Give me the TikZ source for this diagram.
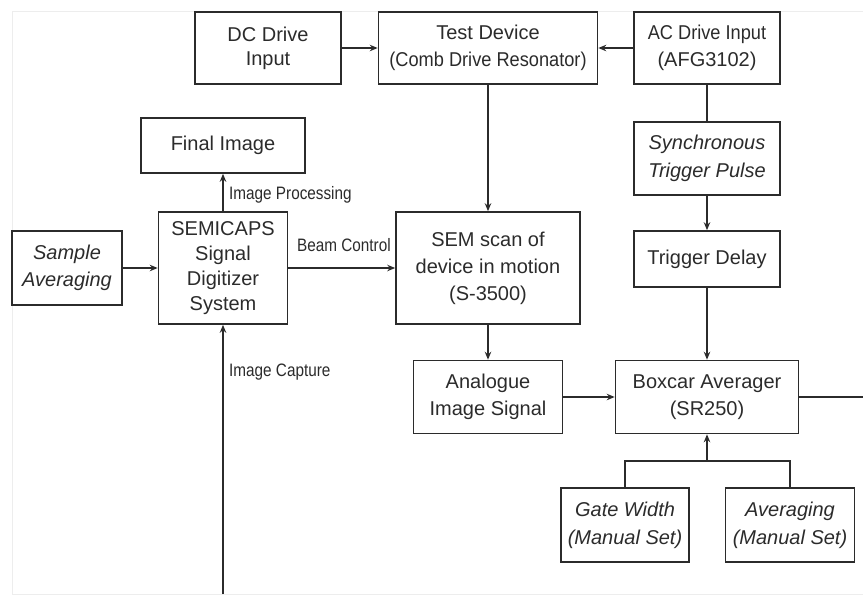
\documentclass[tikz,border=0pt]{standalone}
\usepackage{fontspec}
\setmainfont{Liberation Sans}
\newfontfamily\condfont[FakeStretch=0.85]{Liberation Sans}
\newfontfamily\narrowfont[FakeStretch=0.91]{Liberation Sans}
\usetikzlibrary{arrows.meta}
\definecolor{ink}{HTML}{2B2B2B}
\begin{document}
\begin{tikzpicture}[x=1pt,y=-1pt,
  box/.style={draw=ink, line width=1.6pt, text=ink, inner sep=0pt, align=center,
    font=\fontsize{20}{27}\selectfont},
  conn/.style={draw=ink, line width=1.6pt},
  arr/.style={conn, -{Stealth[length=8pt,width=6.5pt]}},
  lbl/.style={text=ink, font=\condfont\fontsize{18}{20}\selectfont, inner sep=0pt, anchor=west}]
\useasboundingbox (0,0) rectangle (863,595);
\draw[black!7, line width=0.8pt] (863,11) -- (12,11) -- (12,594) -- (863,594);

% nodes
\node[box, minimum width=146pt, minimum height=72pt] (dc) at (268,48) {DC Drive\\[-3pt]Input};
\node[box, minimum width=219pt, minimum height=72pt] (test) at (488,48) {Test Device\\{\narrowfont (Comb Drive Resonator)}};
\node[box, minimum width=146pt, minimum height=72pt] (ac) at (707,48) {{\narrowfont AC Drive Input}\\(AFG3102)};
\node[box, minimum width=164pt, minimum height=55pt] (final) at (223,145.5) {Final Image};
\node[box, minimum width=129pt, minimum height=112pt, font=\fontsize{20}{25}\selectfont] (semi) at (223,268) {SEMICAPS\\Signal\\Digitizer\\System};
\node[box, minimum width=110pt, minimum height=74pt, font=\itshape\fontsize{20}{27}\selectfont] (sample) at (67,268) {Sample\\Averaging};
\node[box, minimum width=184pt, minimum height=112pt] (sem) at (488,268) {SEM scan of\\device in motion\\(S-3500)};
\node[box, minimum width=146pt, minimum height=73pt, font=\itshape\fontsize{20}{28}\selectfont] (sync) at (707,158.5) {Synchronous\\Trigger Pulse};
\node[box, minimum width=146pt, minimum height=56pt] (delay) at (707,259) {Trigger Delay};
\node[box, minimum width=149pt, minimum height=73pt] (analog) at (488,397) {Analogue\\Image Signal};
\node[box, minimum width=183pt, minimum height=73pt] (boxcar) at (707,397) {Boxcar Averager\\(SR250)};
\node[box, minimum width=128pt, minimum height=74pt, font=\itshape\fontsize{20}{28}\selectfont] (gate) at (625,525) {Gate Width\\(Manual Set)};
\node[box, minimum width=129pt, minimum height=74pt, font=\itshape\fontsize{20}{28}\selectfont] (avg) at (790,525) {Averaging\\(Manual Set)};

\coordinate (capin) at (223,594);
\coordinate (out) at (863,397);
\coordinate (j) at (707,461);

% connectors
\draw[arr] (dc) -- (test);
\draw[arr] (ac) -- (test);
\draw[arr] (test) -- (sem);
\draw[conn] (ac) -- (sync);
\draw[arr] (sync) -- (delay);
\draw[arr] (delay) -- (boxcar);
\draw[arr] (sem) -- (analog);
\draw[arr] (analog) -- (boxcar);
\draw[conn] (boxcar) -- (out);
\draw[conn] (gate.north) |- (j) -| (avg.north);
\draw[arr] (j) -- (boxcar.south);
\draw[arr] (sample) -- (semi);
\draw[arr] (semi) -- (sem);
\draw[arr] (semi) -- (final);
\draw[arr] (capin) -- (semi.south);

% labels
\node[lbl] (lproc) at (229,195) {Image Processing};
\node[lbl] (lbeam) at (297,245) {Beam Control};
\node[lbl] (lcap) at (229,372) {Image Capture};
\end{tikzpicture}
\end{document}
